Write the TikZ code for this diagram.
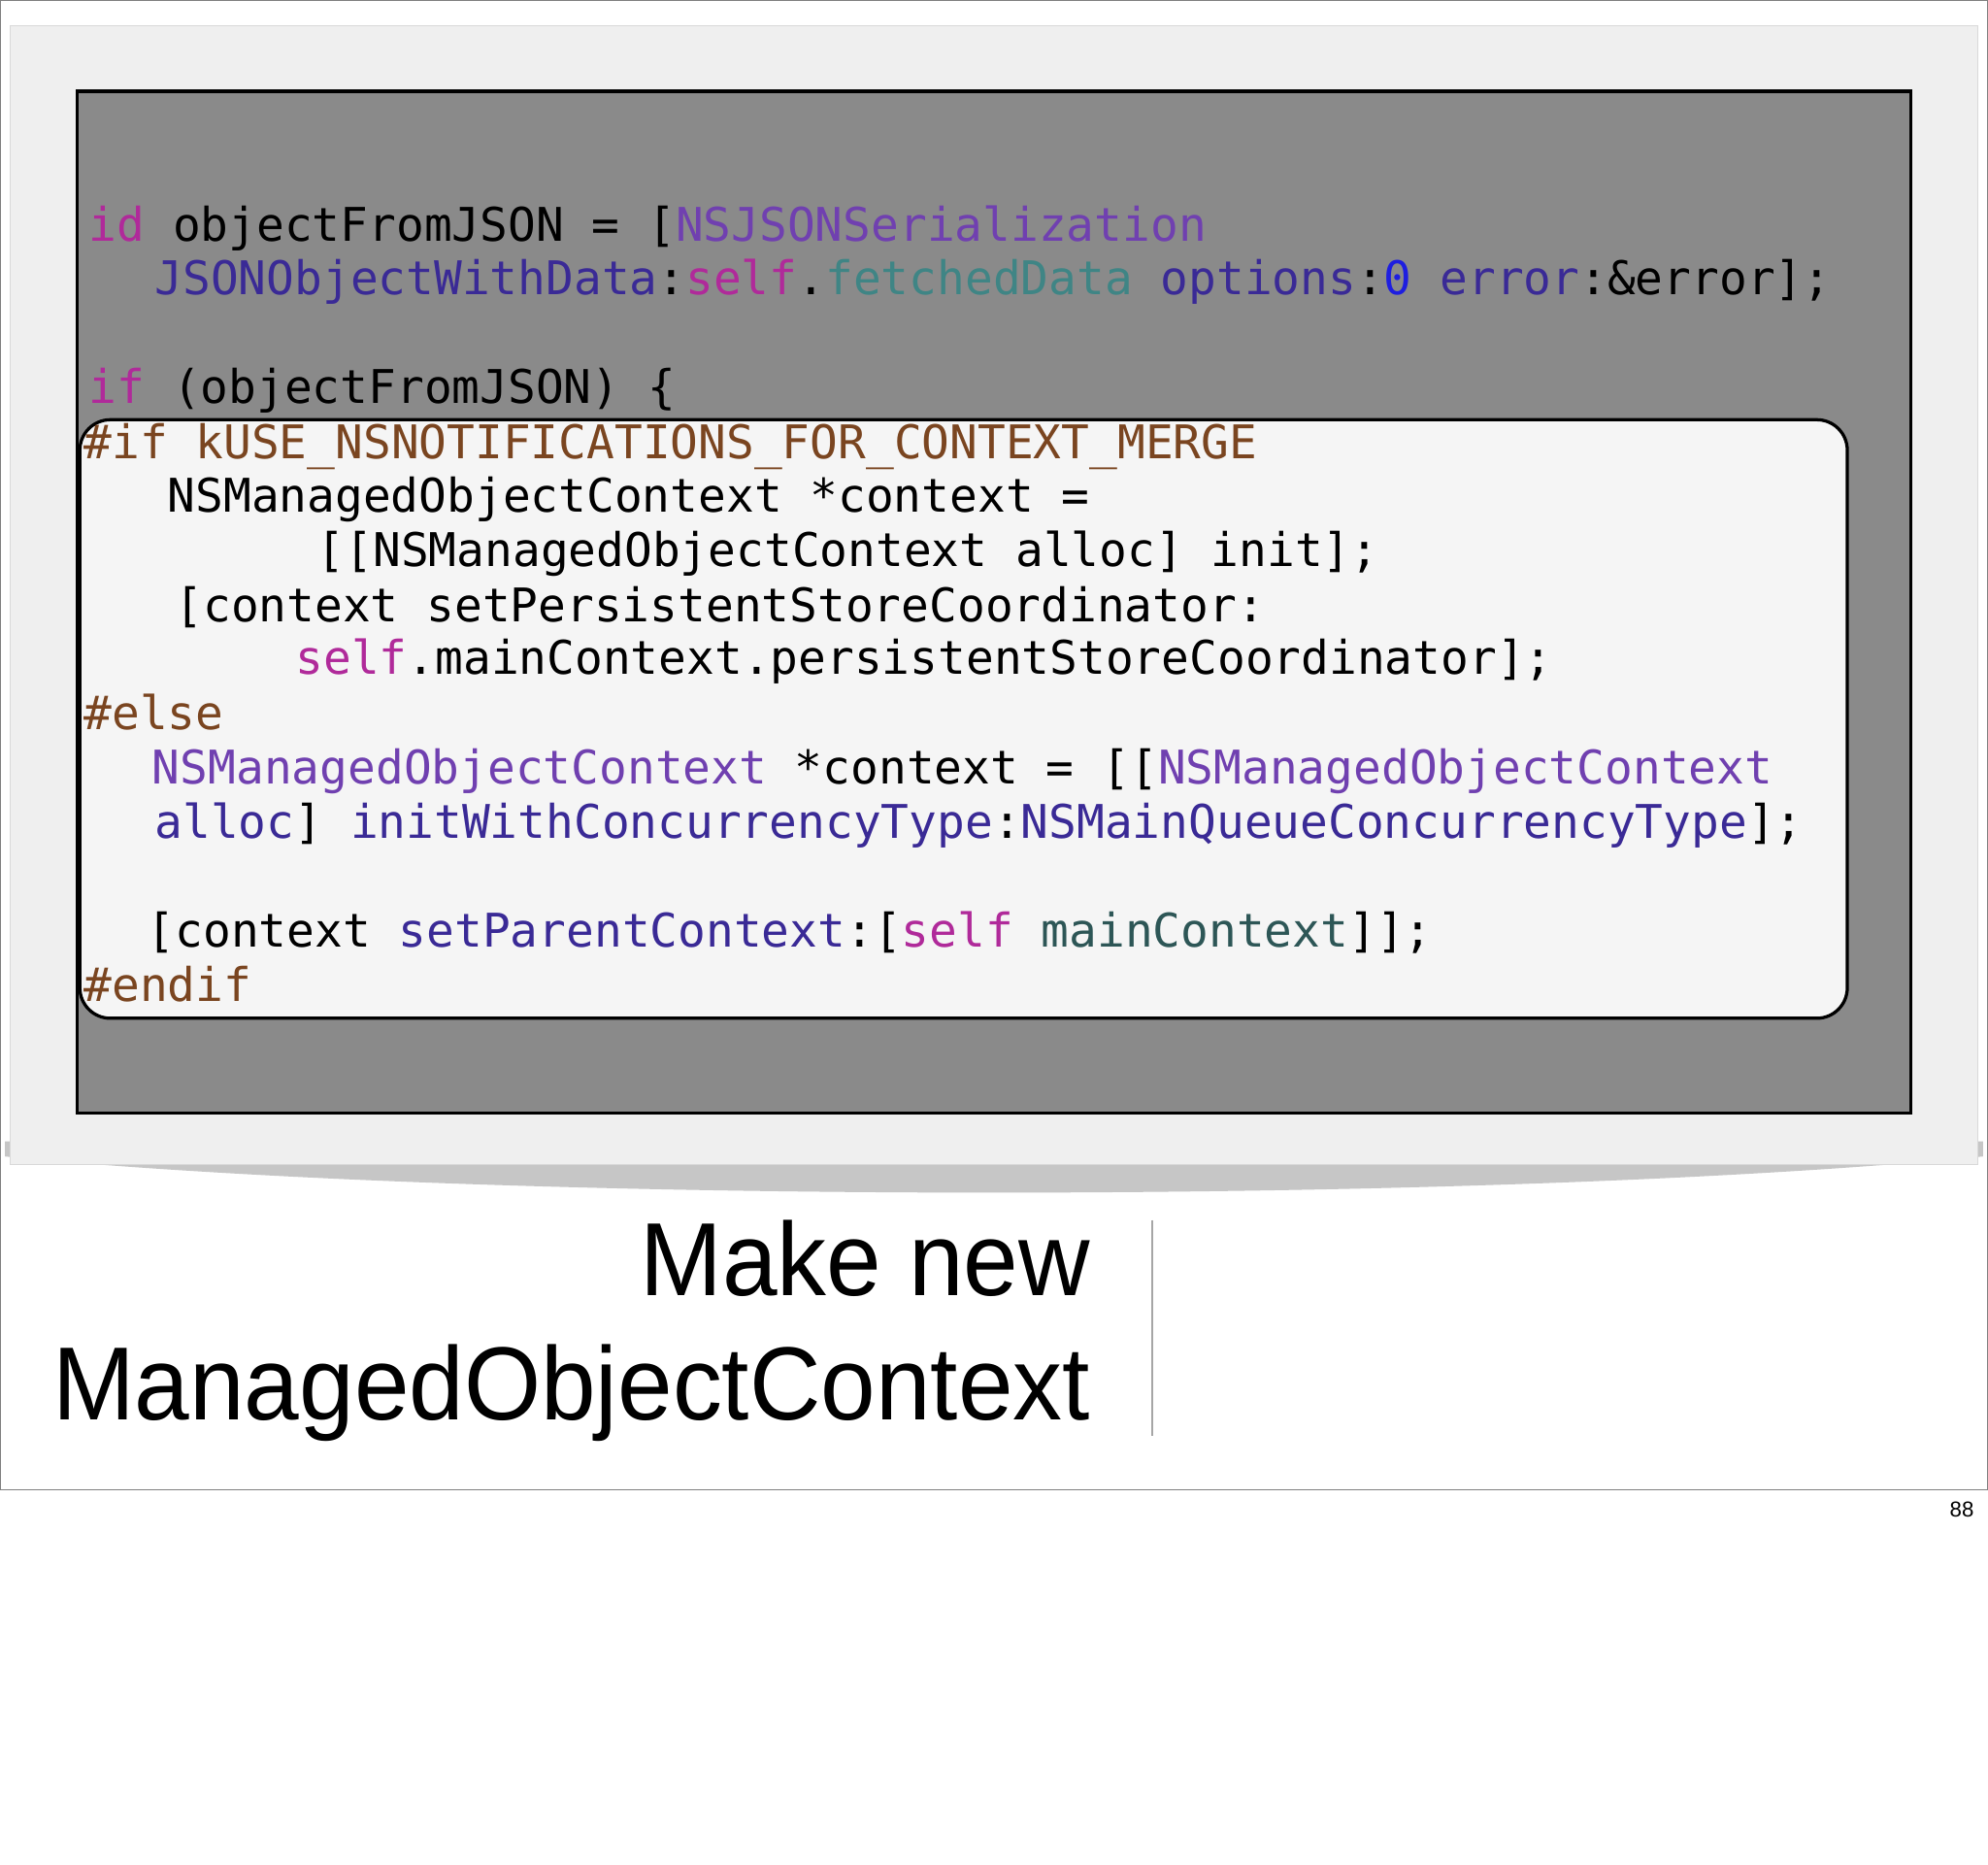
\documentclass[tikz,border=0pt]{standalone}
\usepackage{fontspec}
\setmainfont{Liberation Sans}
\setmonofont{DejaVu Sans Mono}
\usetikzlibrary{positioning}
\definecolor{kwpink}{HTML}{B02A9A}
\definecolor{clspurple}{HTML}{7040B0}
\definecolor{methblue}{HTML}{3A2A96}
\definecolor{propteal}{HTML}{3F8585}
\definecolor{numblue}{HTML}{1E1EE0}
\definecolor{ppbrown}{HTML}{7A4520}
\definecolor{darkteal}{HTML}{2D5656}
\definecolor{boxgray}{HTML}{8A8A8A}
\definecolor{framegray}{HTML}{EFEFEF}
\newcommand{\kw}[1]{\textcolor{kwpink}{#1}}
\newcommand{\cls}[1]{\textcolor{clspurple}{#1}}
\newcommand{\meth}[1]{\textcolor{methblue}{#1}}
\begin{document}
\begin{tikzpicture}[x=1pt,y=-1pt,
  code/.style={anchor=base west,inner sep=0pt,font=\fontsize{36.6}{43}\ttfamily},
  title/.style={anchor=base east,inner sep=0pt,font=\fontsize{82}{96}\selectfont}]
\useasboundingbox (0,0) rectangle (1568,1470);
\fill[white] (0,0) rectangle (1568,1470);
\draw[gray,line width=1pt] (0,0) rectangle (1568,1175);
% shadow and frame
\fill[gray!45] (4,912) .. controls (400,950) and (1168,950) .. (1564,912) -- (1564,900) -- (4,900) -- cycle;
\fill[framegray] (8,20) rectangle (1560,918);
\draw[gray!30] (8,20) rectangle (1560,918);
\draw[black,line width=2.5pt,fill=boxgray] (61,72) rectangle (1507,878);
\draw[black,line width=2.5pt,fill=gray!8,rounded corners=24pt] (63,331) rectangle (1457,803);
% code
\node[code] (l1) at (70,190) {\kw{id} objectFromJSON = [\cls{NSJSONSerialization}};
\node[code] (l2) at (122,232) {\meth{JSONObjectWithData}:\kw{self}.\textcolor{propteal}{fetchedData} \meth{options}:\textcolor{numblue}{0} \meth{error}:\&error];};
\node[code] (l3) at (70,318) {\kw{if} (objectFromJSON) \{};
\node[code,ppbrown] (l4) at (66,362) {\#if kUSE\_NSNOTIFICATIONS\_FOR\_CONTEXT\_MERGE};
\node[code] (l5) at (132,404) {NSManagedObjectContext *context =};
\node[code] (l6) at (250,447) {[[NSManagedObjectContext alloc] init];};
\node[code] (l7) at (138,490) {[context setPersistentStoreCoordinator:};
\node[code] (l8) at (233,532) {\kw{self}.mainContext.persistentStoreCoordinator];};
\node[code,ppbrown] (l9) at (66,575) {\#else};
\node[code] (l10) at (120,618) {\cls{NSManagedObjectContext} *context = [[\cls{NSManagedObjectContext}};
\node[code] (l11) at (122,661) {\meth{alloc}] \meth{initWithConcurrencyType}:\meth{NSMainQueueConcurrencyType}];};
\node[code] (l12) at (116,747) {[context \meth{setParentContext}:[\kw{self} \textcolor{darkteal}{mainContext}]];};
\node[code,ppbrown] (l13) at (66,790) {\#endif};
% title
\node[title] (t1) at (860,1022) {\scalebox{0.95}[1]{Make new}};
\node[title] (t2) at (860,1120) {\scalebox{0.95}[1]{ManagedObjectContext}};
\draw[gray!70,line width=1.2pt] (909,962) -- (909,1132);
\node[anchor=base east,inner sep=0pt,font=\fontsize{17}{20}\selectfont] (pg) at (1557,1196) {88};
\end{tikzpicture}
\end{document}
